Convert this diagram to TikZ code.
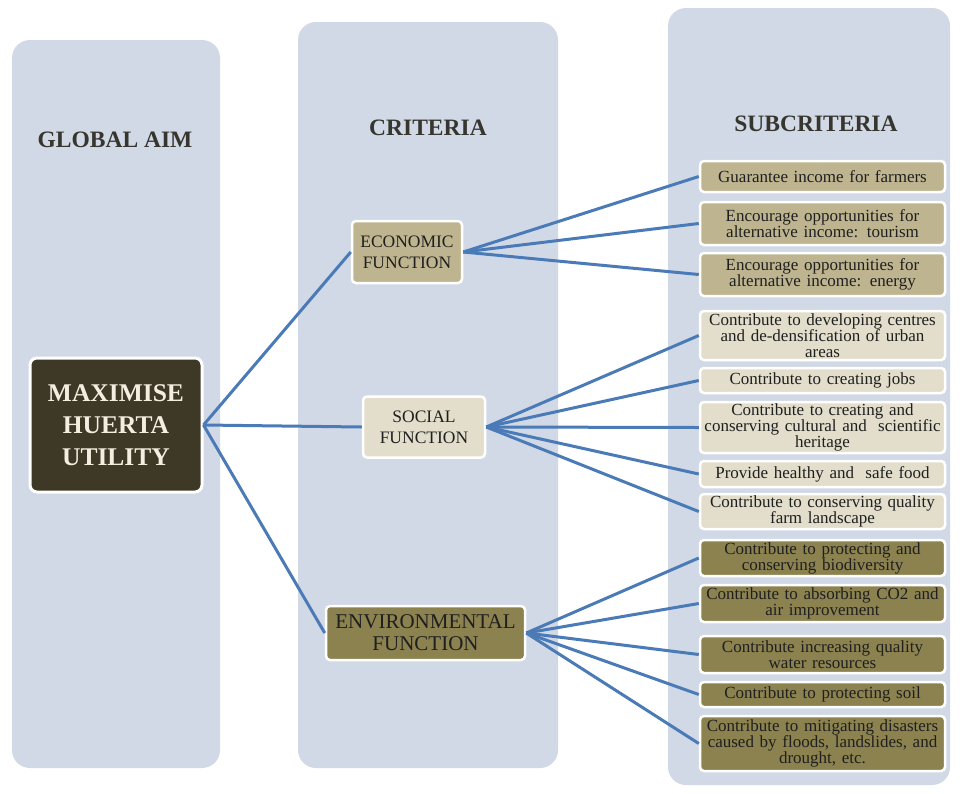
\documentclass[tikz,border=0pt]{standalone}
\usepackage{fontspec}
\setmainfont{Liberation Serif}
\begin{document}
\begin{tikzpicture}[x=1pt,y=-1pt,
  panel/.style={fill=panelc, rounded corners=18pt},
  hdr/.style={font=\fontsize{23.5}{26}\selectfont\bfseries, text=hdrc},
  box/.style={draw=white, line width=2.5pt, rounded corners=4pt, inner sep=0pt, align=center, text=black!88},
  sub/.style={box, minimum width=245pt, text width=243pt, font=\fontsize{17}{16}\selectfont},
  conn/.style={draw=linec, line width=3pt}
]
\definecolor{panelc}{HTML}{D1D9E6}
\definecolor{hdrc}{HTML}{36362E}
\definecolor{tanc}{HTML}{BEB590}
\definecolor{beigec}{HTML}{E2DECB}
\definecolor{olivec}{HTML}{8C8250}
\definecolor{darkc}{HTML}{3E3826}
\definecolor{linec}{HTML}{4A7BB7}
\definecolor{roottext}{HTML}{F2EEE0}
\useasboundingbox (0,0) rectangle (963,793);
\fill[white] (0,0) rectangle (963,793);
% panels
\fill[panel] (12,40) rectangle (220,768);
\fill[panel] (298,22) rectangle (558,768);
\fill[panel] (668,8) rectangle (950,785);
% headers
\node[hdr] (h1) at (115,140) {GLOBAL AIM};
\node[hdr] (h2) at (428,128) {CRITERIA};
\node[hdr] (h3) at (816,124) {SUBCRITERIA};
% root
\node[box, fill=darkc, minimum width=172pt, minimum height=134pt, text width=168pt,
  font=\fontsize{25.5}{32}\selectfont\bfseries, text=roottext, line width=3pt, rounded corners=7pt] (root) at (116,425) {MAXIMISE\\HUERTA\\UTILITY};
% criteria
\node[box, fill=tanc, minimum width=110pt, minimum height=62pt, text width=108pt, font=\fontsize{17.5}{21}\selectfont] (eco) at (407,252) {ECONOMIC\\FUNCTION};
\node[box, fill=beigec, minimum width=122pt, minimum height=61pt, text width=120pt, font=\fontsize{17.5}{21}\selectfont] (soc) at (424,427) {SOCIAL\\FUNCTION};
\node[box, fill=olivec, minimum width=199pt, minimum height=54pt, text width=197pt, font=\fontsize{21}{22}\selectfont] (env) at (425.5,633) {ENVIRONMENTAL\\FUNCTION};
% subcriteria
\node[sub, fill=tanc, minimum height=31pt] (s1) at (822.5,176.5) {Guarantee income for farmers};
\node[sub, fill=tanc, minimum height=43pt] (s2) at (822.5,223.5) {Encourage opportunities for\\alternative income: tourism};
\node[sub, fill=tanc, minimum height=43pt] (s3) at (822.5,274.5) {Encourage opportunities for\\alternative income: energy};
\node[sub, fill=beigec, minimum height=49pt] (s4) at (822.5,335.5) {Contribute to developing centres\\and de-densification of urban\\areas};
\node[sub, fill=beigec, minimum height=25pt] (s5) at (822.5,380.5) {Contribute to creating jobs};
\node[sub, fill=beigec, minimum height=51pt] (s6) at (822.5,427.5) {Contribute to creating and\\conserving cultural and\ \ scientific\\heritage};
\node[sub, fill=beigec, minimum height=26pt] (s7) at (822.5,474) {Provide healthy and\ \ safe food};
\node[sub, fill=beigec, minimum height=35pt] (s8) at (822.5,511.5) {Contribute to conserving quality\\farm landscape};
\node[sub, fill=olivec, minimum height=36pt] (s9) at (822.5,558) {Contribute to protecting and\\conserving biodiversity};
\node[sub, fill=olivec, minimum height=37pt] (s10) at (822.5,603.5) {Contribute to absorbing CO2 and\\air improvement};
\node[sub, fill=olivec, minimum height=37pt] (s11) at (822.5,654.5) {Contribute increasing quality\\water resources};
\node[sub, fill=olivec, minimum height=25pt] (s12) at (822.5,694.5) {Contribute to protecting soil};
\node[sub, fill=olivec, minimum height=55pt] (s13) at (822.5,743.5) {Contribute to mitigating disasters\\caused by floods, landslides, and\\drought, etc.};
% connectors
\draw[conn] (root.east) -- (eco.west);
\draw[conn] (root.east) -- (soc.west);
\draw[conn] (root.east) -- (env.west);
\foreach \s in {s1,s2,s3} \draw[conn] (eco.east) -- (\s.west);
\foreach \s in {s4,s5,s6,s7,s8} \draw[conn] (soc.east) -- (\s.west);
\foreach \s in {s9,s10,s11,s12,s13} \draw[conn] (env.east) -- (\s.west);
\end{tikzpicture}
\end{document}
